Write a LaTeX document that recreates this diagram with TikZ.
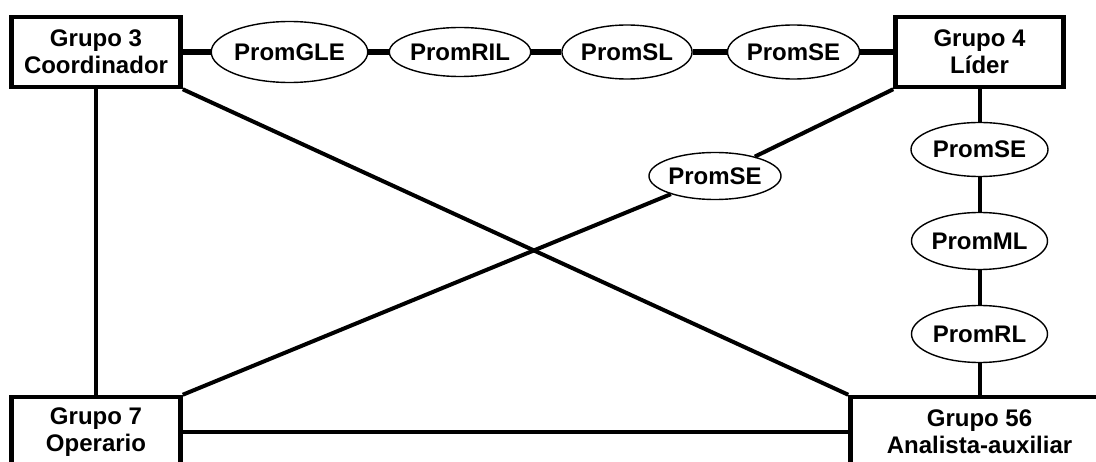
\documentclass[tikz,border=0pt]{standalone}
\usepackage{fontspec}
\setmainfont{Liberation Sans}
\usetikzlibrary{shapes.geometric}
\begin{document}
\begin{tikzpicture}[x=1pt,y=-1pt,
  grupo/.style={draw,line width=4.5pt,rectangle,inner sep=0pt,align=center,
    font=\fontsize{24}{27}\selectfont\bfseries},
  prom/.style={draw,line width=1.4pt,ellipse,inner sep=0pt,
    font=\fontsize{24}{27}\selectfont\bfseries},
  thick link/.style={line width=5.5pt},
  link/.style={line width=4pt}]
\useasboundingbox (0,0) rectangle (1096,462);
\clip (0,0) rectangle (1096,462);

% group boxes
\node[grupo,minimum width=169pt,minimum height=70pt] (g3) at (96,52) {Grupo 3\\Coordinador};
\node[grupo,minimum width=168pt,minimum height=70pt] (g4) at (979.5,52) {Grupo 4\\Líder};
\node[grupo,minimum width=169pt,minimum height=70pt] (g7) at (96,432) {Grupo 7\\Operario};
\node[grupo,minimum width=258pt,minimum height=70pt] (g56) at (979.5,432) {Grupo 56\\Analista-auxiliar};

% top chain
\node[prom,minimum width=136pt,minimum height=61pt] (gle) at (289.5,52) {PromGLE};
\node[prom,minimum width=125pt,minimum height=49pt] (ril) at (460,52) {PromRIL};
\node[prom,minimum width=127pt,minimum height=54pt] (sl) at (627,52) {PromSL};
\node[prom,minimum width=126pt,minimum height=54pt] (setop) at (793.5,52) {PromSE};

% right chain
\node[prom,minimum width=137pt,minimum height=54pt] (seright) at (979.5,149.5) {PromSE};
\node[prom,minimum width=136pt,minimum height=57pt] (ml) at (979.5,241) {PromML};
\node[prom,minimum width=136pt,minimum height=57pt] (rl) at (979.5,334) {PromRL};

% diagonal
\node[prom,minimum width=127pt,minimum height=47pt] (semid) at (715,176) {PromSE};

\draw[thick link] (g3) -- (gle);
\draw[thick link] (gle) -- (ril);
\draw[thick link] (ril) -- (sl);
\draw[thick link] (sl) -- (setop);
\draw[thick link] (setop) -- (g4);

\draw[link] (g4) -- (seright);
\draw[link] (seright) -- (ml);
\draw[link] (ml) -- (rl);
\draw[link] (rl) -- (g56);

\draw[link] (g3.south) -- (g7.north);
\draw[link] (g7.east) -- (g56.west);
\draw[link] (g3.south east) -- (g56.north west);
\draw[link] (g4.south west) -- (semid);
\draw[link] (semid) -- (g7.north east);
\end{tikzpicture}
\end{document}
